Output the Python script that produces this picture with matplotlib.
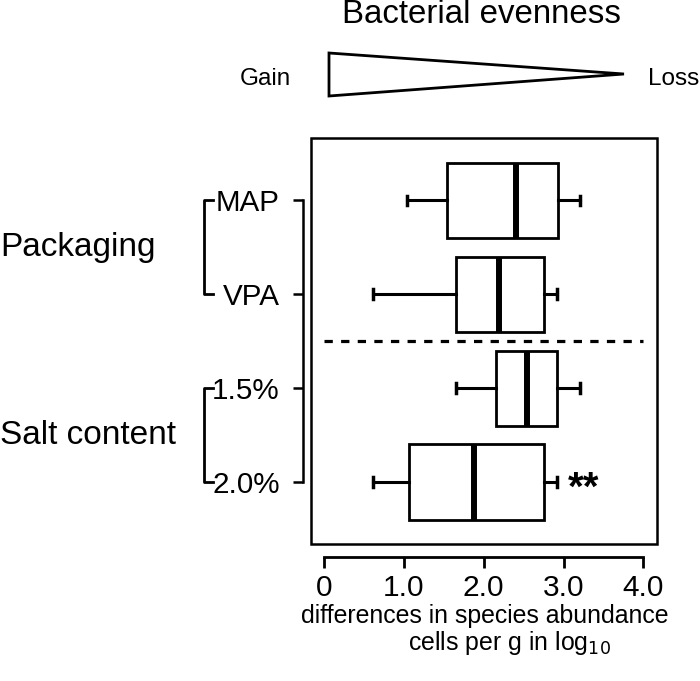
import matplotlib
matplotlib.use("Agg")
import matplotlib.pyplot as plt
import matplotlib.transforms as mtransforms
from matplotlib.patches import Polygon, Rectangle
from matplotlib.lines import Line2D

plt.rcParams['font.family'] = ['Liberation Sans', 'DejaVu Sans']

# data (log10 cells per g)
groups = ['MAP', 'VPA', '1.5%', '2.0%']
positions = [4, 3, 2, 1]
whislo = [1.04, 0.61, 1.65, 0.61]
q1 = [1.54, 1.65, 2.15, 1.07]
med = [2.40, 2.19, 2.54, 1.875]
q3 = [2.93, 2.76, 2.92, 2.76]
whishi = [3.20, 2.92, 3.20, 2.92]
factors = ['Packaging', 'Salt content']
factor_members = [(0, 1), (2, 3)]
signif = {3: '**'}
xticks = [0, 1, 2, 3, 4]
xticklabels = ['0', '1.0', '2.0', '3.0', '4.0']

W, H = 700, 681


def fx(px):
    return px / W


def fy(py):
    return 1 - py / H


fig = plt.figure(figsize=(W / 100, H / 100), dpi=100)
ax = fig.add_axes([fx(310.7), fy(544), (656.7 - 310.7) / W, (544 - 138.3) / H])

stats = []
for i, g in enumerate(groups):
    stats.append(dict(label=g, whislo=whislo[i], q1=q1[i], med=med[i],
                      q3=q3[i], whishi=whishi[i], fliers=[]))

ax.bxp(stats, positions=positions, orientation='horizontal', widths=0.8,
       capwidths=0.1, patch_artist=True, showfliers=False,
       boxprops=dict(facecolor='white', edgecolor='black', linewidth=2),
       medianprops=dict(color='black', linewidth=4.3, solid_capstyle='butt'),
       whiskerprops=dict(color='black', linewidth=2.2),
       capprops=dict(color='black', linewidth=2.5))

ax.set_xlim(-0.1667, 4.1667)
ax.set_ylim(0.34, 4.66)

# separator between the two factors
sep = (positions[1] + positions[2]) / 2
ax.plot([0, 4], [sep, sep], color='black', lw=2.3, linestyle=(0, (2.6, 2.6)))

# significance marks
for i, s in signif.items():
    ax.text(whishi[i] + 0.14, positions[i] - 0.07, s, fontsize=29,
            fontweight='bold', ha='left', va='center')

# frame (R box) and offset axes
for sp in ax.spines.values():
    sp.set_visible(False)
ax.add_patch(Rectangle((0, 0), 1, 1, transform=ax.transAxes, fill=False,
                       lw=1.8, edgecolor='black', clip_on=False, zorder=5))
ax.spines['bottom'].set_visible(True)
ax.spines['left'].set_visible(True)
ax.spines['bottom'].set_position(('outward', 9.4))
ax.spines['left'].set_position(('outward', 5.8))
ax.spines['bottom'].set_bounds(0, 4)
ax.spines['left'].set_bounds(min(positions), max(positions))
ax.spines['bottom'].set_linewidth(2)
ax.spines['left'].set_linewidth(1.8)

ax.set_xticks(xticks)
ax.set_xticklabels(xticklabels)
ax.set_yticks(positions)
ax.set_yticklabels(groups)
ax.tick_params(axis='x', length=8, width=2, pad=4, labelsize=21.5)
ax.tick_params(axis='y', length=7.2, width=1.8, pad=9.4, labelsize=21.3)

# factor brackets and labels
blend = mtransforms.blended_transform_factory(fig.transFigure, ax.transData)
for name, (a, b) in zip(factors, factor_members):
    ya, yb = positions[a], positions[b]
    fig.add_artist(Line2D([fx(213), fx(204), fx(204), fx(213)], [ya, ya, yb, yb],
                          transform=blend, color='black', lw=2))
    fig.text(fx(0), (ya + yb) / 2, name, transform=blend, fontsize=24,
             ha='left', va='center')

# header: title, wedge, gain / loss
fig.text(fx(481), fy(23), 'Bacterial evenness', fontsize=23.8, ha='center',
         va='baseline')
fig.add_artist(Polygon([(fx(329), fy(53)), (fx(329), fy(96)), (fx(624), fy(74))],
                       closed=True, fill=False, edgecolor='black', lw=2,
                       transform=fig.transFigure))
fig.text(fx(240), fy(85), 'Gain', fontsize=17.5, ha='left', va='baseline')
fig.text(fx(648), fy(85), 'Loss', fontsize=17.5, ha='left', va='baseline')

# x axis title
fig.text(fx(484.5), fy(623), 'differences in species abundance', fontsize=17.9,
         ha='center', va='baseline')
fig.text(fx(408), fy(650), r'cells per g in log$_{10}$', fontsize=17.9,
         ha='left', va='baseline')

fig.savefig('out.png', dpi=100)
